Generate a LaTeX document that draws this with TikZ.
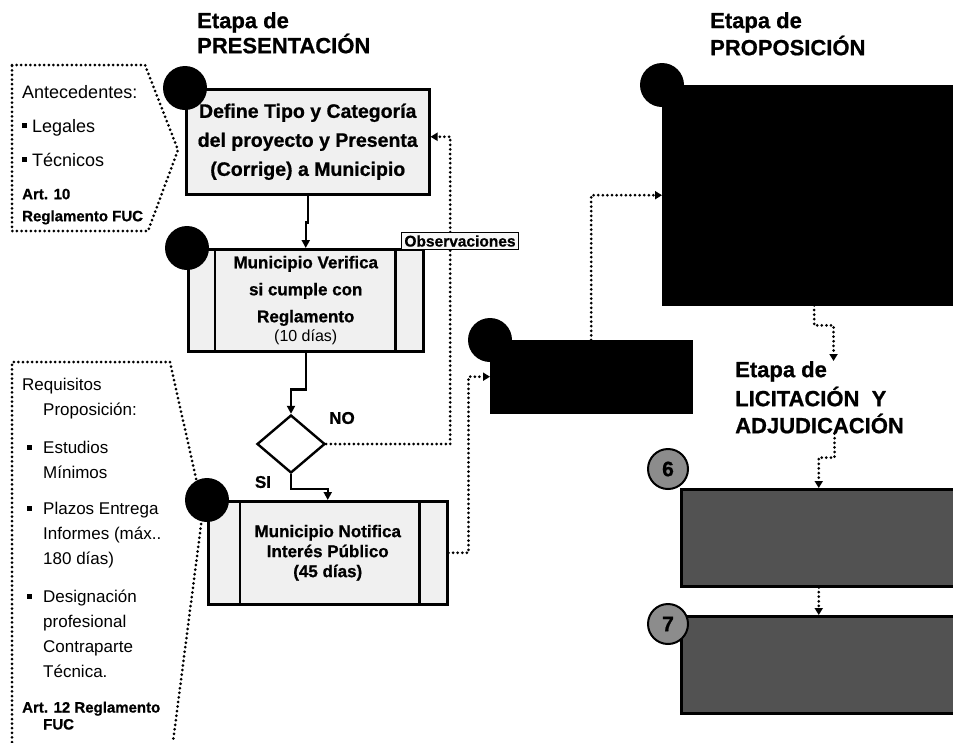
\documentclass[tikz,border=0pt]{standalone}
\usepackage{fontspec}
\setmainfont{Liberation Sans}
\newfontfamily\heavyfont{Liberation Sans}[BoldFeatures={FakeBold=0.8}]
\usetikzlibrary{arrows.meta,positioning,calc,shapes.geometric}
\newcommand{\sqbul}{\rule[4pt]{5pt}{5pt}}

\begin{document}
\begin{tikzpicture}[
  x=1pt, y=-1pt,
  font=\fontsize{17}{27}\selectfont,
  stage/.style={font=\fontsize{22}{22}\selectfont\heavyfont\bfseries, align=left, inner sep=0pt, anchor=north west},
  side/.style={align=left, inner sep=0pt, anchor=north west},
  proc/.style={draw, line width=2.5pt, fill=gray!12, align=center, font=\fontsize{17}{27}\selectfont\heavyfont\bfseries, anchor=north west, inner sep=0pt},
  blk/.style={draw, fill=black, anchor=north west, inner sep=0pt},
  gbox/.style={draw, line width=2.5pt, fill=black!68, anchor=north west, inner sep=0pt},
  dot/.style={circle, fill=black, minimum size=44pt, inner sep=0pt},
  gdot/.style={circle, draw, line width=2pt, fill=black!45, minimum size=40pt, inner sep=0pt, font=\fontsize{21}{21}\selectfont\heavyfont\bfseries},
  arr/.style={-{Triangle[length=8pt,width=8pt]}, line width=2.4pt},
  darr/.style={-{Triangle[length=7pt,width=8pt]}, line width=3pt, dash pattern=on 0pt off 4.6pt, line cap=round},
  dline/.style={line width=3pt, dash pattern=on 0pt off 4.6pt, line cap=round}
]
\useasboundingbox (0,0) rectangle (953,742);

% headings
\node[stage] (stage1) at (197,12) {Etapa de\\PRESENTACIÓN};
\node[stage] (stage2) at (710,12) {Etapa de\\[2pt]PROPOSICIÓN};
\node[stage] (stage3) at (735,361) {Etapa de\\[4pt]LICITACIÓN\ \ Y\\[5pt]ADJUDICACIÓN};

% side notes
\draw[dline] (12,65) -- (145,65) -- (178,150) -- (148,231) -- (12,231) -- cycle;
\node[side, font=\fontsize{18}{34}\selectfont] (antec) at (22,85) {Antecedentes:\\
\sqbul\hspace{5pt}Legales\\
\sqbul\hspace{5pt}Técnicos\\[-1pt]
{\heavyfont\bfseries\fontsize{15}{15}\selectfont Art. 10}\\[-12pt]
{\heavyfont\bfseries\fontsize{15}{15}\selectfont Reglamento FUC}};

\draw[dline] (12,742) -- (12,362) -- (170,362) -- (203,510) -- (173,742);
\node[side, font=\fontsize{17}{25}\selectfont] (requis) at (22,378) {Requisitos\\
\hspace*{21pt}Proposición:\\[13pt]
\makebox[21pt][l]{\hspace{5pt}\sqbul}Estudios\\
\hspace*{21pt}Mínimos\\[11pt]
\makebox[21pt][l]{\hspace{5pt}\sqbul}Plazos Entrega\\
\hspace*{21pt}Informes (máx..\\
\hspace*{21pt}180 días)\\[13pt]
\makebox[21pt][l]{\hspace{5pt}\sqbul}Designación\\
\hspace*{21pt}profesional\\
\hspace*{21pt}Contraparte\\
\hspace*{21pt}Técnica.\\[10pt]
{\heavyfont\bfseries\fontsize{15}{15}\selectfont Art. 12 Reglamento}\\[-8pt]
\hspace*{21pt}{\heavyfont\bfseries\fontsize{15}{15}\selectfont FUC}};

% process boxes
\node[proc, minimum width=243pt, minimum height=105pt, font=\fontsize{19.5}{29}\selectfont\heavyfont\bfseries] (define) at (185,88)
  {Define Tipo y Categoría\\del proyecto y Presenta\\(Corrige) a Municipio};
\node[proc, minimum width=235pt, minimum height=102pt] (verif) at (187,248)
  {Municipio Verifica\\si cumple con\\Reglamento\\[-8pt]{\mdseries\fontsize{16}{16}\selectfont (10 días)}};
\draw[line width=2.5pt] ([xshift=28pt]verif.north west) -- ([xshift=28pt]verif.south west);
\draw[line width=2.5pt] ([xshift=-29pt]verif.north east) -- ([xshift=-29pt]verif.south east);
\node[draw, diamond, line width=2.4pt, fill=white, minimum width=68pt, minimum height=58pt, inner sep=0pt] (dec) at (291,444) {};
\node[proc, minimum width=239pt, minimum height=103pt, font=\fontsize{17}{20}\selectfont\heavyfont\bfseries] (notif) at (207,500)
  {Municipio Notifica\\Interés Público\\(45 días)};
\draw[line width=2.5pt] ([xshift=33pt]notif.north west) -- ([xshift=33pt]notif.south west);
\draw[line width=2.5pt] ([xshift=-29pt]notif.north east) -- ([xshift=-29pt]notif.south east);

\node[blk, minimum width=202pt, minimum height=73pt] (step4) at (490,340) {};
\node[blk, minimum width=292pt, minimum height=220pt] (step5) at (662,85) {};
\node[gbox, minimum width=275pt, minimum height=97pt] (step6) at (680,488) {};
\node[gbox, minimum width=275pt, minimum height=97pt] (step7) at (680,615) {};

% numbered circles
\node[dot] (n1) at (define.north west) {};
\node[dot] (n2) at (verif.north west) {};
\node[dot] (n3) at (notif.north west) {};
\node[dot] (n4) at (step4.north west) {};
\node[dot] (n5) at (step5.north west) {};
\node[gdot] (n6) at (668,469) {6};
\node[gdot] (n7) at (668,624) {7};

% connectors
\draw[arr] (define.south) -- ++(0,27) -| (verif.north);
\draw[arr] (verif.south) -- ++(0,37) -| (dec.north);
\draw[arr] (dec.south) -- ++(0,15) -| (notif.north);
\draw[darr] (dec.east) -- ++(124,0) |- ([yshift=5pt]define.east);
\node[draw, line width=1.4pt, fill=gray!6, inner sep=3pt, font=\fontsize{15.5}{15.5}\selectfont\heavyfont\bfseries] (obs) at (460,241) {Observaciones};
\draw[darr] (notif.east) -- ++(20,0) |- (step4.west);
\draw[darr] (step4.north) |- (step5.west);
\draw[darr] ([xshift=6pt]step5.south) -- ++(0,20) -| ([xshift=14pt]stage3.north);
\draw[darr] ([xshift=15pt]stage3.south) -- ++(0,24) -| (step6.north);
\draw[darr] (step6.south) -- (step7.north);

\node[font=\fontsize{17}{17}\selectfont\heavyfont\bfseries] (nolbl) at (342,418) {NO};
\node[font=\fontsize{17}{17}\selectfont\heavyfont\bfseries] (silbl) at (263,482) {SI};
\end{tikzpicture}
\end{document}
